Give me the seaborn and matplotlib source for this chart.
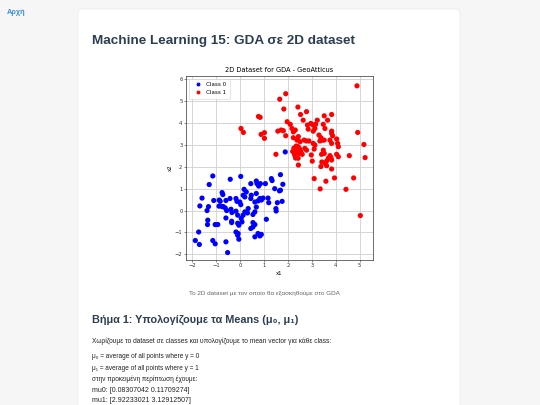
import pandas as pd
import matplotlib.pyplot as plt
import seaborn as sns
from matplotlib.patches import FancyBboxPatch

# ==============================
# Data
# ==============================
class0_x1 = [-1.14, -0.41, -1.29, -1.59, -1.68, -1.32, -1.38, -1.10, -0.87, -0.83,
             -0.75, -0.72, -0.59, -0.42, -0.17, -0.13, -0.75, -0.70, -0.62, -0.56,
             -0.38, -0.34, -0.17, -0.10, -0.59, -0.35, -0.35, -1.35, -1.36, -1.04,
             -0.93, -0.10, -0.05, -1.73, -0.17, -0.10, -1.14, -1.04, -0.59, -1.87,
             -1.70, -0.52, 0.03, 0.45, 0.68, 0.71, 0.78, 0.85, 1.06, 1.31,
             1.34, 1.69, 1.69, 1.45, 1.17, 1.20, 1.56, 1.76, 1.50, 1.51,
             0.17, 0.26, 0.47, 0.45, 0.13, 0.20, 0.68, 0.83, 0.89, 0.75,
             0.62, 0.96, -0.01, 0.03, 0.34, 0.31, 0.20, 0.13, 0.05, 0.08,
             0.68, 0.62, 0.54, 1.10, 0.54, 0.62, 0.54, 0.45, 0.75, 0.89,
             0.83, 0.62, -0.08, -0.05, 1.79, 1.89, 1.65, -0.88]
class0_x2 = [1.58, 1.43, 1.19, 0.57, 0.21, 0.18, 0.00, 0.46, 0.48, 0.42,
             0.82, 0.73, 0.46, 0.55, 0.55, 0.42, 0.18, 0.18, 0.12, 0.00,
             0.06, -0.09, -0.03, -0.21, -0.34, -0.49, -0.55, -0.44, -0.64, -0.64,
             -0.64, -0.58, -0.67, -0.98, -0.98, -1.13, -1.37, -1.52, -1.43, -1.37,
             -1.55, -1.92, 1.56, 1.23, 1.35, 1.23, 1.12, 1.23, 1.23, 1.46,
             1.37, 1.64, 0.93, 1.00, 0.57, 0.36, 0.36, 0.42, 0.09, -0.02,
             0.97, 0.85, 0.70, 0.55, 0.70, 0.62, 0.78, 0.55, 0.48, 0.44,
             0.39, 0.57, 0.39, 0.27, 0.09, -0.11, -0.06, -0.21, -0.36, -0.52,
             0.16, -0.06, -0.18, -0.40, -0.55, -0.64, -0.75, -0.82, -1.05, -1.09,
             -1.16, -1.20, -1.05, -1.31, 1.20, 2.68, 0.90, 0.20]

class1_x1 = [1.91, 1.66, 1.83, 2.42, 2.53, 0.77, 0.84, 1.97, 2.10, 0.04,
             0.14, 0.88, 1.02, 1.02, 1.58, 1.72, 1.81, 2.17, 2.23, 2.31,
             1.91, 2.23, 2.44, 2.38, 2.51, 1.50, 2.44, 2.25, 2.30, 2.35,
             2.28, 2.32, 2.40, 2.20, 4.89, 4.92, 5.18, 5.23, 4.57, 3.83,
             3.52, 3.66, 3.23, 2.78, 2.64, 2.82, 2.96, 3.06, 3.16, 2.85,
             3.06, 3.13, 3.48, 3.55, 3.83, 3.83, 3.87, 3.30, 3.38, 3.34,
             3.44, 3.52, 2.68, 2.78, 2.88, 3.06, 3.13, 3.76, 3.83, 4.04,
             4.08, 4.11, 2.43, 2.50, 2.54, 2.46, 2.60, 2.43, 2.71, 2.78,
             3.10, 3.48, 3.52, 3.41, 3.76, 3.80, 3.69, 3.62, 3.83, 4.04,
             4.11, 2.98, 3.02, 3.38, 3.55, 3.62, 3.83, 3.42, 3.10, 3.59,
             3.95, 4.75, 3.35, 4.43, 5.03]
class1_x2 = [5.34, 5.09, 4.64, 4.73, 4.39, 4.30, 4.26, 4.06, 3.94, 3.75,
             3.57, 3.48, 3.56, 3.30, 3.63, 3.68, 3.65, 3.75, 3.60, 3.68,
             3.42, 3.33, 3.38, 3.22, 3.15, 2.57, 2.08, 2.85, 2.75, 2.95,
             2.55, 2.40, 2.65, 2.70, 5.70, 3.57, 3.02, 2.42, 2.51, 4.39,
             4.33, 4.13, 4.13, 4.52, 4.13, 3.91, 3.98, 3.91, 3.94, 3.72,
             3.63, 3.75, 3.94, 3.75, 3.63, 3.53, 3.42, 3.45, 3.33, 3.18,
             3.22, 3.22, 3.22, 3.18, 3.18, 3.07, 2.99, 3.22, 3.07, 3.27,
             3.07, 2.92, 2.92, 2.81, 2.69, 2.61, 2.57, 2.39, 2.84, 2.76,
             2.81, 2.76, 2.61, 2.57, 2.51, 2.42, 2.39, 2.26, 2.31, 2.57,
             2.46, 2.54, 2.26, 2.01, 2.16, 2.05, 1.90, 2.22, 1.46, 1.34,
             1.49, 1.49, 0.99, 0.97, -0.23]

class_names = ['Class 0', 'Class 1']
x_ticks = [-2, -1, 0, 1, 2, 3, 4, 5]
y_ticks = [-2, -1, 0, 1, 2, 3, 4, 5, 6]

mu0_text = 'mu0: [0.08307042 0.11709274]'
mu1_text = 'mu1: [2.92233021 3.12912507]'

df = pd.DataFrame({
    'x1': class0_x1 + class1_x1,
    'x2': class0_x2 + class1_x2,
    'label': [class_names[0]] * len(class0_x1) + [class_names[1]] * len(class1_x1),
})

# ==============================
# Page (card + texts)
# ==============================
W, H = 540, 405
fig = plt.figure(figsize=(W / 100, H / 100), dpi=100)
fig.patch.set_facecolor('#f6f6f6')

page = fig.add_axes([0, 0, 1, 1])
page.set_xlim(0, W)
page.set_ylim(H, 0)
page.axis('off')

card = FancyBboxPatch((78, 9), 382, 420, boxstyle='round,pad=0,rounding_size=4',
                      facecolor='white', edgecolor='#ececec', linewidth=0.6)
page.add_patch(card)

fam = ['Liberation Sans', 'DejaVu Sans']
dark = '#2c3e50'
body = '#222222'

page.text(7, 13, 'Αρχή', fontsize=5.3, fontweight='bold', color='#3b8fd9', family=fam, va='center')
page.text(92, 41, 'Machine Learning 15: GDA σε 2D dataset', fontsize=9.7,
          fontweight='bold', color=dark, family=fam, va='center')
page.text(264, 293, 'Το 2D dataset με τον οποίο θα εξασκηθούμε στο GDA', fontsize=4.6,
          color='#666666', family=fam, va='center', ha='center')
page.text(92, 320, 'Βήμα 1: Υπολογίζουμε τα Means (μ₀, μ₁)', fontsize=7.8,
          fontweight='bold', color=dark, family=fam, va='center')
page.text(92, 341, 'Χωρίζουμε το dataset σε classes και υπολογίζουμε το mean vector για κάθε class:',
          fontsize=4.8, color=body, family=fam, va='center')

lines = [('μ₀ = average of all points where y = 0', 4.7),
         ('μ₁ = average of all points where y = 1', 4.7),
         ('στην προκειμένη περίπτωση έχουμε:', 4.7),
         (mu0_text, 5.0),
         (mu1_text, 5.0)]
for i, (t, fs) in enumerate(lines):
    page.text(92, 357 + i * 11, t, fontsize=fs, color=body, family=fam, va='center')

# ==============================
# Embedded scatter chart
# ==============================
ax = fig.add_axes([186 / W, 1 - 260 / H, 187 / W, 184 / H])
ax.set_axisbelow(True)
ax.grid(True, color='#cfcfcf', linewidth=0.6)

sns.scatterplot(data=df, x='x1', y='x2', hue='label',
                palette={'Class 0': '#0000ff', 'Class 1': '#ff0000'},
                s=14, linewidth=0, ax=ax)

ax.set_xlim(-2.26, 5.56)
ax.set_ylim(-2.26, 6.15)
ax.set_xticks(x_ticks)
ax.set_yticks(y_ticks)
ax.tick_params(labelsize=3.8, length=1.5, width=0.4, pad=1, colors='#333333')
for s in ax.spines.values():
    s.set_linewidth(0.5)
    s.set_color('#333333')

ax.set_title('2D Dataset for GDA - GeoAtticus', fontsize=4.8, pad=3)
ax.set_xlabel('x1', fontsize=3.9, labelpad=1.5)
ax.set_ylabel('x2', fontsize=3.9, labelpad=1.5)

leg = ax.legend(loc='upper left', fontsize=4.1, markerscale=0.75, borderpad=0.6,
                handletextpad=0.5, labelspacing=0.55, framealpha=0.9)
leg.get_frame().set_linewidth(0.4)

plt.savefig('out.png', dpi=100)
